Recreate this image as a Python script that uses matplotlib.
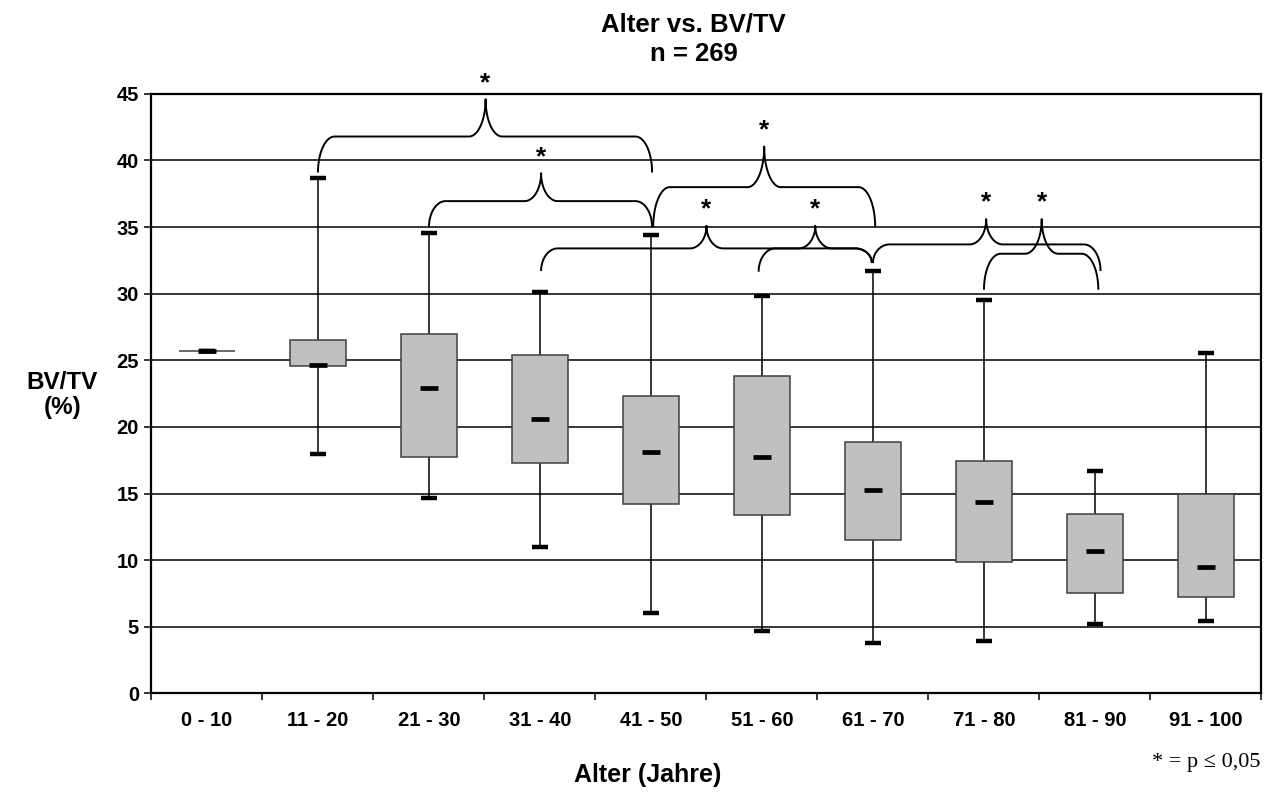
import matplotlib
matplotlib.use('Agg')
import matplotlib.pyplot as plt
import numpy as np

plt.rcParams['font.family'] = ['Liberation Sans', 'DejaVu Sans']
plt.rcParams['font.weight'] = 'bold'

# age groups and BV/TV box statistics (%)
groups = ['0 - 10', '11 - 20', '21 - 30', '31 - 40', '41 - 50',
          '51 - 60', '61 - 70', '71 - 80', '81 - 90', '91 - 100']
whisker_lo = [25.7, 18.0, 14.7, 11.0, 6.0, 4.7, 3.75, 3.95, 5.2, 5.45]
q1 = [25.7, 24.55, 17.75, 17.3, 14.2, 13.4, 11.5, 9.85, 7.5, 7.2]
median = [25.7, 24.65, 22.95, 20.6, 18.15, 17.75, 15.25, 14.4, 10.7, 9.45]
q3 = [25.7, 26.5, 26.95, 25.4, 22.3, 23.8, 18.85, 17.45, 13.45, 14.95]
whisker_hi = [25.7, 38.7, 34.55, 30.1, 34.4, 29.8, 31.7, 29.55, 16.7, 25.55]

# significant comparisons (p <= 0.05), drawn as curly braces
# group positions of both ends, end heights, bar height, tip position and height
sig_left = [1.0, 2.0, 3.01, 4.02, 4.97, 6.0, 7.0]
sig_right = [4.01, 4.01, 5.99, 6.02, 5.99, 8.05, 8.03]
sig_end_left = [39.1, 35.0, 31.7, 35.0, 31.65, 32.3, 30.3]
sig_end_right = [39.1, 35.0, 32.3, 35.0, 32.3, 31.7, 30.3]
sig_bar = [41.8, 36.95, 33.4, 38.0, 33.4, 33.7, 33.0]
sig_tip_x = [2.51, 3.01, 4.5, 5.02, 5.48, 7.02, 7.52]
sig_tip_y = [44.6, 39.05, 35.1, 41.05, 35.1, 35.6, 35.6]


def brace(ax, xl, xr, yl, yr, yh, xt, yt, curl=0.15, tipw=0.15):
    t = np.linspace(0, np.pi / 2, 30)
    lx = xl + curl - curl * np.cos(t)
    ly = yl + (yh - yl) * np.sin(t)
    tx1 = xt - tipw + tipw * np.sin(t)
    ty1 = yt - (yt - yh) * np.cos(t)
    tx2 = 2 * xt - tx1[::-1]
    ty2 = ty1[::-1]
    rx = xr - curl + curl * np.sin(t)
    ry = yr + (yh - yr) * np.cos(t)
    xs = np.concatenate([lx, tx1, tx2, rx])
    ys = np.concatenate([ly, ty1, ty2, ry])
    ax.plot(xs, ys, color='black', lw=1.4, zorder=5, clip_on=False,
            solid_capstyle='butt')
    ax.text(xt, yt + 0.7, '*', ha='center', va='baseline', fontsize=19,
            fontweight='bold', zorder=6, clip_on=False)


fig = plt.figure(figsize=(12.75, 7.93), dpi=100)
ax = fig.add_axes([0.1188, 0.1257, 0.8706, 0.7559])

x = np.arange(len(groups))
lo = np.array(whisker_lo)
hi = np.array(whisker_hi)
b1 = np.array(q1)
b3 = np.array(q3)
med = np.array(median)

ax.vlines(x, lo, hi, color='black', lw=1.1, zorder=2)
ax.bar(x, b3 - b1, bottom=b1, width=0.5, color='#c0c0c0',
       edgecolor='#404040', linewidth=1.1, zorder=3)
ax.hlines(np.concatenate([lo, hi]), np.tile(x, 2) - 0.07, np.tile(x, 2) + 0.07,
          color='black', lw=3.2, zorder=4)
ax.hlines(med, x - 0.085, x + 0.085, color='black', lw=3.4, zorder=4)

for i in range(len(sig_left)):
    brace(ax, sig_left[i], sig_right[i], sig_end_left[i], sig_end_right[i],
          sig_bar[i], sig_tip_x[i], sig_tip_y[i])

ax.set_xlim(-0.5, 9.5)
ax.set_ylim(0, 45)
ax.set_yticks(range(0, 50, 5))
ax.yaxis.grid(True, color='black', linewidth=1.1)
ax.set_axisbelow(True)

ax.set_xticks(x)
ax.set_xticklabels(groups)
ax.set_xticks(np.arange(-0.5, 10, 1), minor=True)
ax.tick_params(axis='x', which='major', length=0, pad=13, labelsize=14.5)
ax.tick_params(axis='x', which='minor', length=5, width=1.1, direction='out')
ax.tick_params(axis='y', length=5, width=1.1, direction='out', pad=4,
               labelsize=14.5)
for s in ax.spines.values():
    s.set_linewidth(1.6)
    s.set_color('black')

fig.text(0.544, 0.984, 'Alter vs. BV/TV\nn = 269', ha='center', va='top',
         fontsize=18.5, fontweight='bold', linespacing=1.3)
fig.text(0.049, 0.502, 'BV/TV\n(%)', ha='center', va='center', fontsize=17.5,
         fontweight='bold', linespacing=1.15)
fig.text(0.508, 0.0227, 'Alter (Jahre)', ha='center', va='center',
         fontsize=18, fontweight='bold')
fig.text(0.989, 0.039, '* = p \u2264 0,05', ha='right', va='center', fontsize=16,
         fontweight='normal', family=['Liberation Serif', 'DejaVu Serif'])

fig.savefig('out.png', dpi=100)
